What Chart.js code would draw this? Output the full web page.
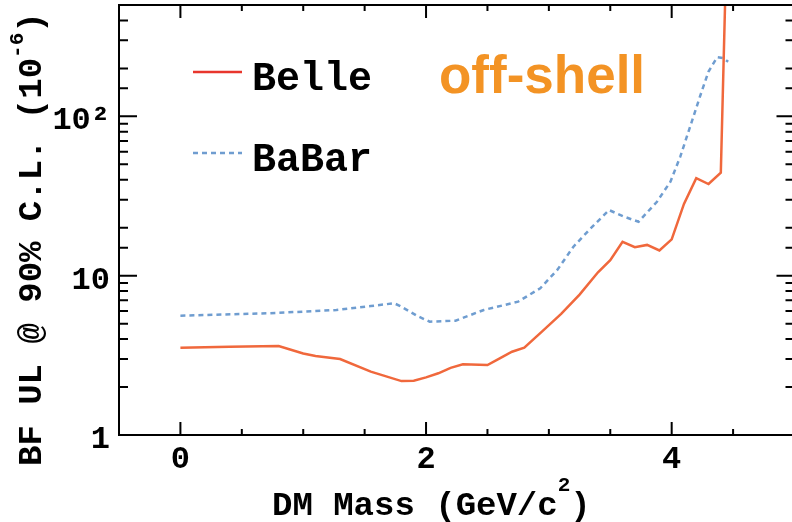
<!DOCTYPE html>
<html>
<head>
<meta charset="utf-8">
<script src="https://cdn.jsdelivr.net/npm/chart.js@4.4.0/dist/chart.umd.min.js"></script>
<style>
html, body { margin: 0; padding: 0; background: #fff; overflow: hidden; }
#wrap { width: 792px; height: 522px; overflow: hidden; }
</style>
</head>
<body>
<div id="wrap"><canvas id="c" width="800" height="522"></canvas></div>
<script>
// Belle upper limits (off-shell), BF in units of 1e-6
const belleMass = [0, 0.4, 0.8, 1.0, 1.1, 1.3, 1.55, 1.8, 1.9, 2.0, 2.1, 2.2, 2.3, 2.5, 2.6, 2.7, 2.8, 2.95, 3.1, 3.25, 3.4, 3.5, 3.6, 3.7, 3.8, 3.9, 4.0, 4.1, 4.2, 4.3, 4.4, 4.46]
const belleBF = [3.53, 3.58, 3.62, 3.25, 3.13, 3.0, 2.5, 2.18, 2.19, 2.3, 2.44, 2.64, 2.78, 2.75, 3.03, 3.33, 3.53, 4.5, 5.75, 7.6, 10.5, 12.5, 16.3, 15.1, 15.6, 14.4, 16.9, 28.2, 40.9, 37.6, 44.3, 3000]

// BaBar upper limits
const babarMass = [0, 0.73, 1.27, 1.55, 1.74, 1.79, 1.93, 2.03, 2.24, 2.47, 2.75, 2.93, 3.07, 3.2, 3.34, 3.49, 3.61, 3.73, 3.88, 3.99, 4.07, 4.15, 4.23, 4.3, 4.37, 4.42, 4.46]
const babarBF = [5.61, 5.81, 6.09, 6.45, 6.71, 6.45, 5.58, 5.14, 5.22, 6.09, 6.87, 8.34, 10.9, 15.2, 19.8, 25.8, 23.5, 21.8, 29.1, 38.9, 55.9, 86, 133, 191, 235, 232, 220]

const xLabels = { 0: '0', 2: '2', 4: '4' }
const yLabels = { 1: '1', 10: '10', 100: '10²' }

const MONO = '"Courier New", "Liberation Mono", monospace'
const SANS = '"Liberation Sans", Arial, sans-serif'

const frame = {
  id: 'frame',
  afterDraw(chart) {
    const { ctx, chartArea: a, scales: { x, y } } = chart
    ctx.save()
    // box + inward ticks
    ctx.strokeStyle = '#000'
    ctx.lineWidth = 2
    ctx.strokeRect(a.left, a.top, a.right - a.left, a.bottom - a.top)
    ctx.beginPath()
    x.ticks.forEach(t => {
      const px = x.getPixelForValue(t.value)
      const len = Math.abs(t.value % 2) < 1e-9 ? 13 : 6
      ctx.moveTo(px, a.bottom); ctx.lineTo(px, a.bottom - len)
      ctx.moveTo(px, a.top); ctx.lineTo(px, a.top + len)
    })
    y.ticks.forEach(t => {
      const py = y.getPixelForValue(t.value)
      const len = Number.isInteger(Math.log10(t.value)) ? 18 : 9
      ctx.moveTo(a.left, py); ctx.lineTo(a.left + len, py)
      ctx.moveTo(a.right, py); ctx.lineTo(a.right - len, py)
    })
    ctx.stroke()

    // legend
    const ds = chart.data.datasets
    ctx.lineWidth = 2.5
    ctx.strokeStyle = '#e8362c'
    ctx.beginPath(); ctx.moveTo(193, 72); ctx.lineTo(242, 72); ctx.stroke()
    ctx.strokeStyle = ds[1].borderColor
    ctx.setLineDash(ds[1].borderDash)
    ctx.beginPath(); ctx.moveTo(193, 153); ctx.lineTo(242, 153); ctx.stroke()
    ctx.setLineDash([])
    ctx.fillStyle = '#000'
    ctx.font = 'bold 40px ' + MONO
    ctx.textBaseline = 'alphabetic'
    ctx.textAlign = 'left'
    ctx.fillText(ds[0].label, 252, 90)
    ctx.fillText(ds[1].label, 252, 171)

    // annotation
    ctx.fillStyle = '#f39324'
    ctx.font = 'bold 53px ' + SANS
    ctx.fillText('off-shell', 439, 93)

    // x title with superscript
    ctx.fillStyle = '#000'
    ctx.font = 'bold 34px ' + MONO
    let s = 'DM Mass (GeV/c'
    let cx = 272
    ctx.fillText(s, cx, 515)
    cx += ctx.measureText(s).width
    ctx.font = 'bold 21px ' + MONO
    ctx.fillText('2', cx, 491)
    cx += ctx.measureText('2').width
    ctx.font = 'bold 34px ' + MONO
    ctx.fillText(')', cx, 515)

    // y title, rotated
    ctx.translate(41, 466)
    ctx.rotate(-Math.PI / 2)
    s = 'BF UL @ 90% C.L. (10'
    cx = 0
    ctx.fillText(s, cx, 0)
    cx += ctx.measureText(s).width
    ctx.font = 'bold 21px ' + MONO
    ctx.fillText('-6', cx, -18)
    cx += ctx.measureText('-6').width
    ctx.font = 'bold 34px ' + MONO
    ctx.fillText(')', cx, 0)
    ctx.restore()
  }
}

new Chart(document.getElementById('c'), {
  type: 'line',
  data: {
    datasets: [
      {
        label: 'Belle',
        data: belleMass.map((m, i) => ({ x: m, y: belleBF[i] })),
        borderColor: '#f0683c',
        borderWidth: 2.5,
        pointRadius: 0,
        tension: 0,
        fill: false
      },
      {
        label: 'BaBar',
        data: babarMass.map((m, i) => ({ x: m, y: babarBF[i] })),
        borderColor: '#6f9dd0',
        borderDash: [5, 4],
        borderWidth: 2.5,
        pointRadius: 0,
        tension: 0,
        fill: false
      }
    ]
  },
  options: {
    responsive: false,
    animation: false,
    layout: { padding: { top: 5, right: 5.5, left: 0, bottom: 0 } },
    plugins: { legend: { display: false }, tooltip: { enabled: false } },
    scales: {
      x: {
        type: 'linear',
        min: -0.5,
        max: 5,
        afterFit(s) {
          s.height = 87
          s.paddingLeft = 0
          s.paddingRight = 0
        },
        grid: { display: false, drawTicks: false },
        border: { display: false },
        ticks: {
          stepSize: 0.5,
          autoSkip: false,
          maxRotation: 0,
          padding: 6,
          color: '#000',
          font: { family: MONO, size: 32, weight: 'bold' },
          callback: v => xLabels[v] ?? ''
        }
      },
      y: {
        type: 'logarithmic',
        min: 1,
        max: 500,
        afterFit(s) {
          s.width = 119
          s.paddingTop = 0
          s.paddingBottom = 0
        },
        grid: { display: false, drawTicks: false },
        border: { display: false },
        ticks: {
          autoSkip: false,
          padding: 9,
          labelOffset: 5,
          color: '#000',
          font: { family: MONO, size: 32, weight: 'bold' },
          callback: v => yLabels[v] ?? ''
        }
      }
    }
  },
  plugins: [frame]
})
</script>
</body>
</html>
